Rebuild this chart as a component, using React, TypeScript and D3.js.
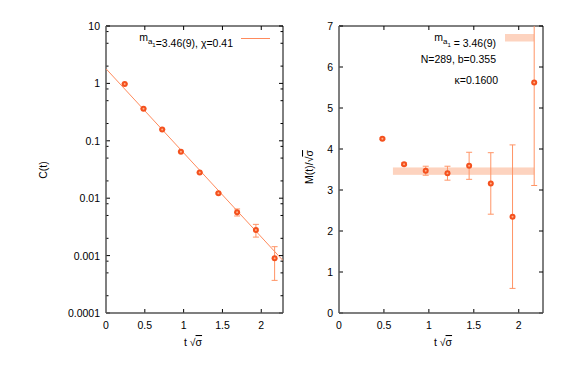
import React from 'react';
import * as d3 from 'd3';

// t*sqrt(sigma) values
const tLeft = [0.241, 0.483, 0.724, 0.965, 1.207, 1.448, 1.689, 1.931, 2.172];
const cVals = [0.98, 0.363, 0.158, 0.0646, 0.028, 0.0122, 0.0057, 0.0028, 0.0009];
const cErrs = [0.01, 0.005, 0.002, 0.001, 0.0004, 0.0004, 0.0008, 0.0007, 0.00053];
const fitLine = [[0, 1.8], [2.28, 0.00082]];

const tRight = [0.483, 0.724, 0.965, 1.207, 1.448, 1.689, 1.931, 2.172];
const mVals = [4.25, 3.63, 3.47, 3.41, 3.59, 3.16, 2.35, 5.62];
const mErrs = [0.02, 0.03, 0.11, 0.17, 0.33, 0.75, 1.75, 2.51];
const band = { x0: 0.6, x1: 2.172, mid: 3.46, err: 0.09 };

const xTicks = [0, 0.5, 1, 1.5, 2];
const logMajor = [10, 1, 0.1, 0.01, 0.001, 0.0001];
const logLabels = ['10', '1', '0.1', '0.01', '0.001', '0.0001'];
const mTicks = [0, 1, 2, 3, 4, 5, 6, 7];

const font = '"Liberation Sans", Arial, sans-serif';
const fs = 10.5;
const ptColor = '#f4511e';
const barColor = '#ff9466';
const lineColor = '#ff8a5c';
const bandColor = '#fdd3bf';

function Frame({ x, y, xTickVals, yTickVals, yMinor, yLabels }) {
  const [x0, x1] = x.range();
  const [y0, y1] = y.range();
  return (
    <g>
      {xTickVals.map((v, i) => (
        <g key={'x' + i}>
          {i > 0 && <line x1={x(v)} x2={x(v)} y1={y0} y2={y0 - 4} stroke="#000" />}
          {i > 0 && <line x1={x(v)} x2={x(v)} y1={y1} y2={y1 + 4} stroke="#000" />}
          <text x={x(v)} y={y0 + 16} textAnchor="middle" fontSize={fs} fontFamily={font}>{String(v)}</text>
        </g>
      ))}
      {yTickVals.map((v, i) => (
        <g key={'y' + i}>
          <line x1={x0} x2={x0 + 4} y1={y(v)} y2={y(v)} stroke="#000" />
          <line x1={x1} x2={x1 - 4} y1={y(v)} y2={y(v)} stroke="#000" />
          <text x={x0 - 6} y={y(v) + 4} textAnchor="end" fontSize={fs} fontFamily={font}>{yLabels[i]}</text>
        </g>
      ))}
      {yMinor.map((v, i) => (
        <g key={'m' + i}>
          <line x1={x0} x2={x0 + 2.5} y1={y(v)} y2={y(v)} stroke="#000" />
          <line x1={x1} x2={x1 - 2.5} y1={y(v)} y2={y(v)} stroke="#000" />
        </g>
      ))}
      <line x1={x0} x2={x1} y1={y1} y2={y1} stroke="#000" />
      <line x1={x1} x2={x1} y1={y1} y2={y0} stroke="#000" />
      <line x1={x0} x2={x0} y1={y1} y2={y0} stroke="#555" strokeWidth={1.5} />
      <line x1={x0} x2={x1} y1={y0} y2={y0} stroke="#555" strokeWidth={1.5} />
    </g>
  );
}

function Point({ cx, cy }) {
  return (
    <g>
      <circle cx={cx} cy={cy} r={3} fill={ptColor} />
      <circle cx={cx} cy={cy} r={1} fill="#ffb08a" />
    </g>
  );
}

function ErrBar({ cx, yTop, yBot }) {
  return (
    <g stroke={barColor} strokeWidth={1}>
      <line x1={cx} x2={cx} y1={yTop} y2={yBot} />
      <line x1={cx - 3} x2={cx + 3} y1={yTop} y2={yTop} />
      <line x1={cx - 3} x2={cx + 3} y1={yBot} y2={yBot} />
    </g>
  );
}

function Sub() {
  return (
    <>
      <tspan>m</tspan>
      <tspan fontSize={8} dy={3}>a</tspan>
      <tspan fontSize={6} dy={2.5}>1</tspan>
      <tspan dy={-5.5}></tspan>
    </>
  );
}

export default function App() {
  const xL = d3.scaleLinear().domain([0, 2.28]).range([106, 283]);
  const yL = d3.scaleLog().domain([0.0001, 10]).range([313, 26]);
  const xR = d3.scaleLinear().domain([0, 2.27]).range([339, 543]);
  const yR = d3.scaleLinear().domain([0, 7]).range([313, 26]);

  const minor = [];
  logMajor.slice(1).forEach((d) => [2, 5, 8].forEach((m) => minor.push(d * m)));

  const line = d3.line().x((d) => xL(d[0])).y((d) => yL(d[1]));

  return (
    <svg width={581} height={371} style={{ position: 'absolute', left: 0, top: 0 }}>
      <rect width={581} height={371} fill="#fff" />
      <defs>
        <clipPath id="clipL"><rect x={106} y={26} width={177} height={287} /></clipPath>
        <clipPath id="clipR"><rect x={339} y={26} width={204} height={287} /></clipPath>
      </defs>

      {/* left panel */}
      <Frame x={xL} y={yL} xTickVals={xTicks} yTickVals={logMajor} yMinor={minor} yLabels={logLabels} />
      <g clipPath="url(#clipL)">
        <path d={line(fitLine)} stroke={lineColor} strokeWidth={1} fill="none" />
        {tLeft.map((t, i) => (
          <g key={i}>
            <ErrBar cx={xL(t)} yTop={yL(cVals[i] + cErrs[i])} yBot={yL(cVals[i] - cErrs[i])} />
            <Point cx={xL(t)} cy={yL(cVals[i])} />
          </g>
        ))}
      </g>
      <text x={233} y={41} textAnchor="end" fontSize={fs} fontFamily={font}>
        <Sub /><tspan>=3.46(9), χ=0.41</tspan>
      </text>
      <line x1={241} x2={270} y1={38.5} y2={38.5} stroke={lineColor} />
      <text transform="translate(47,170) rotate(-90)" textAnchor="middle" fontSize={fs} fontFamily={font}>C(t)</text>
      <text x={193} y={346} textAnchor="middle" fontSize={fs} fontFamily={font}>
        t √<tspan style={{ textDecoration: 'overline' }}>σ</tspan>
      </text>

      {/* right panel */}
      <rect x={xR(band.x0)} y={yR(band.mid + band.err)} width={xR(band.x1) - xR(band.x0)}
        height={yR(band.mid - band.err) - yR(band.mid + band.err)} fill={bandColor} />
      <rect x={505} y={34} width={29} height={7.5} fill={bandColor} />
      <Frame x={xR} y={yR} xTickVals={xTicks} yTickVals={mTicks} yMinor={[]} yLabels={mTicks.map(String)} />
      <g clipPath="url(#clipR)">
        {tRight.map((t, i) => (
          <g key={i}>
            <ErrBar cx={xR(t)} yTop={yR(mVals[i] + mErrs[i])} yBot={yR(mVals[i] - mErrs[i])} />
            <Point cx={xR(t)} cy={yR(mVals[i])} />
          </g>
        ))}
      </g>
      <text x={496} y={41} textAnchor="end" fontSize={fs} fontFamily={font}>
        <Sub /><tspan> = 3.46(9)</tspan>
      </text>
      <text x={496} y={63} textAnchor="end" fontSize={fs} fontFamily={font}>N=289, b=0.355</text>
      <text x={498} y={84} textAnchor="end" fontSize={fs} fontFamily={font}>κ=0.1600</text>
      <text transform="translate(313,167) rotate(-90)" textAnchor="middle" fontSize={fs} fontFamily={font}>
        M(t)/√<tspan style={{ textDecoration: 'overline' }}>σ</tspan>
      </text>
      <text x={443} y={346} textAnchor="middle" fontSize={fs} fontFamily={font}>
        t √<tspan style={{ textDecoration: 'overline' }}>σ</tspan>
      </text>
    </svg>
  );
}
